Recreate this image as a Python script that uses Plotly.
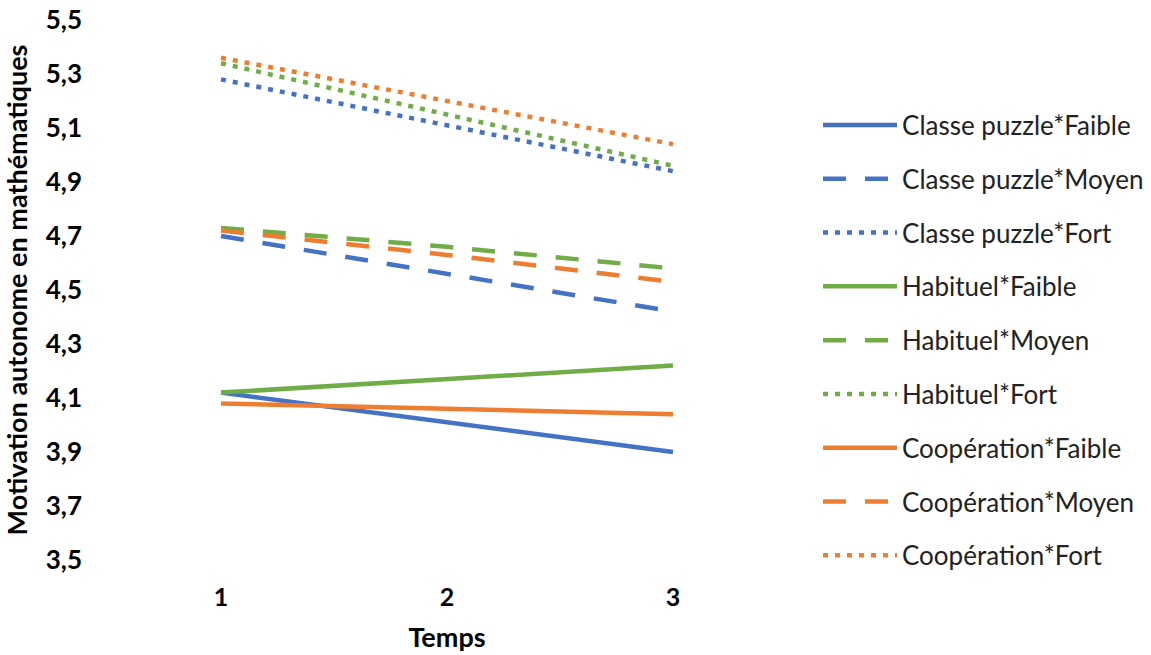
import plotly.graph_objects as go

temps = ["1", "2", "3"]

classe_puzzle_faible = [4.12, 4.01, 3.90]
classe_puzzle_moyen = [4.70, 4.56, 4.42]
classe_puzzle_fort = [5.28, 5.11, 4.94]
habituel_faible = [4.12, 4.17, 4.22]
habituel_moyen = [4.73, 4.66, 4.58]
habituel_fort = [5.34, 5.15, 4.96]
cooperation_faible = [4.08, 4.06, 4.04]
cooperation_moyen = [4.72, 4.63, 4.53]
cooperation_fort = [5.36, 5.20, 5.04]

names = ["Classe puzzle*Faible", "Classe puzzle*Moyen", "Classe puzzle*Fort",
         "Habituel*Faible", "Habituel*Moyen", "Habituel*Fort",
         "Coopération*Faible", "Coopération*Moyen", "Coopération*Fort"]
series = [classe_puzzle_faible, classe_puzzle_moyen, classe_puzzle_fort,
          habituel_faible, habituel_moyen, habituel_fort,
          cooperation_faible, cooperation_moyen, cooperation_fort]

BLUE, GREEN, ORANGE = "#4472C4", "#70AD47", "#ED7D31"
colors = [BLUE] * 3 + [GREEN] * 3 + [ORANGE] * 3
dashes = ["solid", "23px,19px", "5px,7px"] * 3

fig = go.Figure()
for i, (n, s) in enumerate(zip(names, series)):
    fig.add_trace(go.Scatter(
        x=temps, y=s, name=n, mode="lines",
        line=dict(color=colors[i], width=4.5, dash=dashes[i]),
        legendgroup=n,
    ))

FONT = "Lato"
fig.update_layout(
    width=1151, height=655,
    margin=dict(l=108, r=365, t=20, b=95),
    paper_bgcolor="white", plot_bgcolor="white",
    separators=", ",
    font=dict(family=FONT, color="black"),
    showlegend=True,
    legend=dict(
        xref="container", x=0.7107, xanchor="left",
        y=0.849, yanchor="top",
        font=dict(family=FONT, size=26, color="#222222"),
        itemwidth=74, tracegroupgap=17,
        bgcolor="rgba(0,0,0,0)",
    ),
    xaxis=dict(
        type="category", range=[-0.5, 2.5],
        showgrid=False, showline=False, zeroline=False,
        tickfont=dict(family=FONT, size=25, color="black", weight="bold"),
        ticklabelstandoff=20,
        title=dict(text="<b>Temps</b>", font=dict(family=FONT, size=27, color="black"), standoff=18),
        automargin=False,
    ),
    yaxis=dict(
        range=[3.5, 5.5], tick0=3.5, dtick=0.2, tickformat=".1f",
        showgrid=False, showline=False, zeroline=False,
        tickfont=dict(family=FONT, size=26, color="black", weight="bold"),
        ticklabelstandoff=25,
        title=dict(text="<b>Motivation autonome en mathématiques</b>",
                   font=dict(family=FONT, size=27, color="black"), standoff=12),
        automargin=False,
    ),
)

fig.write_html("out.html", config={"displayModeBar": False},
               post_script="document.body.style.margin='0';document.body.style.padding='0';")
